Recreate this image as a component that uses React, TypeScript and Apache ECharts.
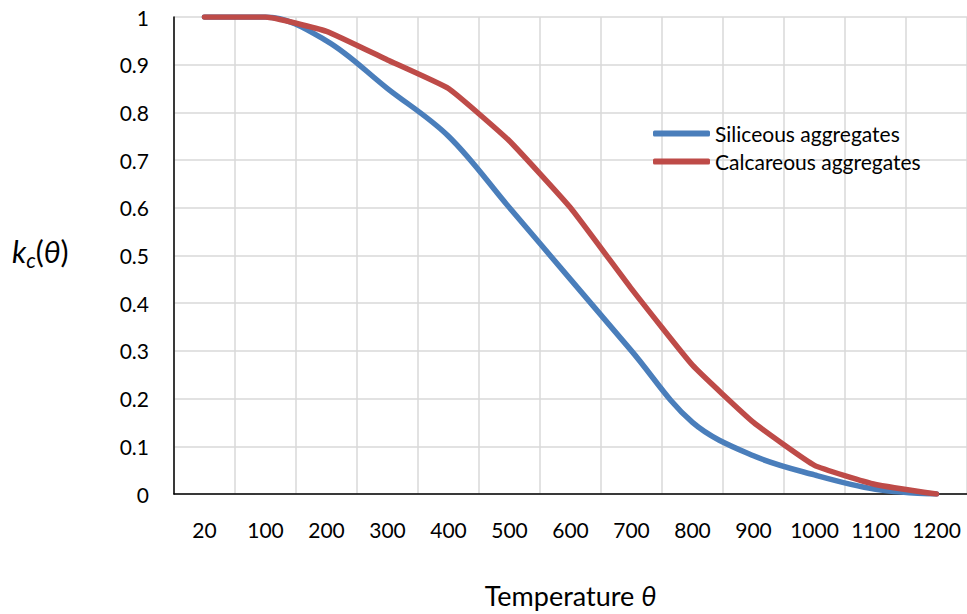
import React, { useEffect, useRef } from "react";
import * as echarts from "echarts";

const temperatures = ["20", "100", "200", "300", "400", "500", "600", "700", "800", "900", "1000", "1100", "1200"];
const siliceous = [1, 1, 0.95, 0.85, 0.75, 0.6, 0.45, 0.3, 0.15, 0.08, 0.04, 0.01, 0];
const calcareous = [1, 1, 0.97, 0.91, 0.85, 0.74, 0.6, 0.43, 0.27, 0.15, 0.06, 0.02, 0];
const seriesNames = ["Siliceous aggregates", "Calcareous aggregates"];

const FONT = "Lato, 'Open Sans', sans-serif";

export default function App() {
  const ref = useRef<HTMLDivElement>(null);
  useEffect(() => {
    const chart = echarts.init(ref.current!, null, { renderer: "svg" });
    chart.setOption({
      animation: false,
      backgroundColor: "#fff",
      grid: { left: 174, right: 0, top: 17, bottom: 120, containLabel: false, outerBoundsMode: "none" },
      legend: {
        orient: "vertical",
        left: 648,
        top: 118,
        itemWidth: 57,
        itemHeight: 6,
        itemGap: 7,
        icon: "roundRect",
        textStyle: { fontFamily: FONT, fontSize: 21, color: "#000" },
        data: seriesNames,
      },
      xAxis: {
        type: "category",
        data: temperatures,
        boundaryGap: true,
        axisLine: { lineStyle: { color: "#000", width: 1.5 } },
        axisTick: { show: false },
        axisLabel: { interval: 0, color: "#000", fontFamily: FONT, fontSize: 21, margin: 25 },
        splitLine: { show: true, interval: 0, lineStyle: { color: "#d9d9d9", width: 1.5 } },
        name: "Temperature {i|θ}",
        nameLocation: "middle",
        nameGap: 88,
        nameTextStyle: {
          color: "#000",
          fontFamily: FONT,
          fontSize: 27,
          rich: { i: { fontFamily: FONT, fontSize: 27, fontStyle: "italic", color: "#000" } },
        },
      },
      yAxis: {
        type: "value",
        min: 0,
        max: 1,
        interval: 0.1,
        axisLine: { show: true, lineStyle: { color: "#000", width: 1.5 } },
        axisTick: { show: false },
        axisLabel: { color: "#000", fontFamily: FONT, fontSize: 21, margin: 25 },
        splitLine: { show: true, lineStyle: { color: "#d9d9d9", width: 1.5 } },
      },
      graphic: [
        {
          type: "text",
          left: 12,
          top: 236,
          style: {
            text: "{k|k}{c|c}{p|(}{k|θ}{p|)}",
            rich: {
              k: { fontFamily: FONT, fontSize: 30, fontStyle: "italic", fill: "#000" },
              c: { fontFamily: FONT, fontSize: 21, fontStyle: "italic", fill: "#000", padding: [16, 0, 0, 0] },
              p: { fontFamily: FONT, fontSize: 30, fill: "#000" },
            },
          },
        },
      ],
      series: [
        {
          name: seriesNames[0],
          type: "line",
          data: siliceous,
          smooth: 0.35,
          symbol: "none",
          lineStyle: { color: "#4a7ebb", width: 5.5, cap: "round" },
          itemStyle: { color: "#4a7ebb" },
        },
        {
          name: seriesNames[1],
          type: "line",
          data: calcareous,
          smooth: 0.12,
          symbol: "none",
          lineStyle: { color: "#be4b48", width: 5.5, cap: "round" },
          itemStyle: { color: "#be4b48" },
        },
      ],
    });
    return () => chart.dispose();
  }, []);
  return <div ref={ref} style={{ width: 967, height: 614, position: "absolute", left: 0, top: 0 }} />;
}
